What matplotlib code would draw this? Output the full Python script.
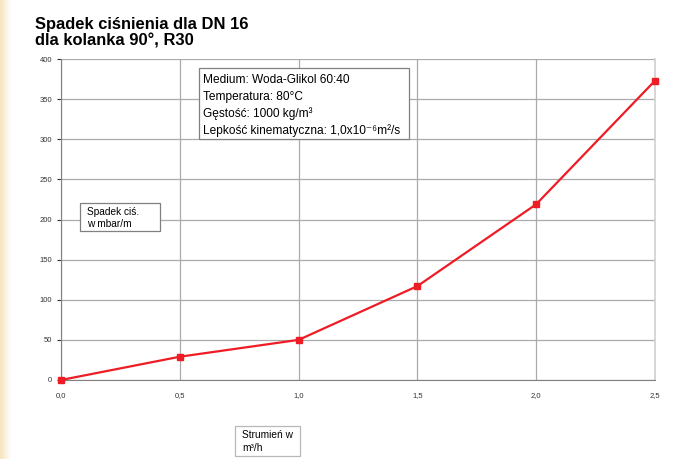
import matplotlib
matplotlib.use("Agg")
import matplotlib.pyplot as plt
import numpy as np
from matplotlib.patches import Rectangle
from matplotlib.colors import LinearSegmentedColormap

flow = [0.0, 0.5, 1.0, 1.5, 2.0, 2.5]
drop = [0, 29, 50, 117, 219, 373]
xticks = [0.0, 0.5, 1.0, 1.5, 2.0, 2.5]
xticklabels = ["0,0", "0,5", "1,0", "1,5", "2,0", "2,5"]
yticks = list(range(0, 401, 50))
title_lines = ["Spadek ciśnienia dla DN 16", "dla kolanka 90°, R30"]

plt.rcParams['font.family'] = ['Liberation Sans', 'DejaVu Sans']

W, H = 676, 459
fig = plt.figure(figsize=(6.76, 4.59), dpi=100)

def fx(px):
    return px / W

def fy(py):
    return 1 - py / H

# beige gradient strip on the left
gax = fig.add_axes([0, 0, 0.016, 1])
grad = np.linspace(0, 1, 50).reshape(1, -1)
cmap = LinearSegmentedColormap.from_list("b", ["#f6e3bd", "#ffffff"])
gax.imshow(np.vstack([grad] * 10), aspect='auto', cmap=cmap, extent=[0, 1, 0, 1])
gax.axis('off')

ax = fig.add_axes([fx(61), fy(380), fx(655) - fx(61), fy(59) - fy(380)])
ax.set_xlim(0, 2.5)
ax.set_ylim(0, 400)
ax.set_xticks(xticks)
ax.set_xticklabels(xticklabels)
ax.set_yticks(yticks)
ax.grid(True, color='#ababab', linewidth=0.9)
ax.set_axisbelow(True)
ax.tick_params(axis='both', labelsize=5.5, colors='#333333', length=3, width=0.8)
ax.tick_params(axis='x', length=0, pad=9)
ax.spines['top'].set_visible(False)
ax.spines['right'].set_color('#d0d0d0')
ax.spines['right'].set_linewidth(1.2)
ax.spines['left'].set_color('#808080')
ax.spines['bottom'].set_color('#808080')

ax.plot(flow, drop, color='#ee1c25', linewidth=1.6, marker='s', markersize=5,
        clip_on=False, zorder=5)

for i, t in enumerate(title_lines):
    fig.text(fx(35), fy(29 + i * 17), t, fontsize=11.9, fontweight='bold',
             va='baseline', ha='left')

def box(x0, y0, x1, y1, ec):
    fig.patches.append(Rectangle((fx(x0), fy(y1)), fx(x1) - fx(x0), fy(y0) - fy(y1),
                                 transform=fig.transFigure, facecolor='white',
                                 edgecolor=ec, linewidth=0.9, zorder=10))

box(199, 68, 409, 139, '#808080')
info = ["Medium: Woda-Glikol 60:40", "Temperatura: 80°C",
        "Gęstość: 1000 kg/m³", "Lepkość kinematyczna: 1,0x10⁻⁶m²/s"]
for i, line in enumerate(info):
    fig.text(fx(203), fy(80 + i * 16.7), line, fontsize=8.6, va='center', ha='left', zorder=11)

box(80, 203, 160, 231, '#808080')
fig.text(fx(87), fy(212), "Spadek ciś.", fontsize=7.3, va='center', ha='left', zorder=11)
fig.text(fx(87), fy(224), "w mbar/m", fontsize=7.3, va='center', ha='left', zorder=11)

box(235, 426, 300, 456, '#b8b8b8')
fig.text(fx(242), fy(435), "Strumień w", fontsize=7.3, va='center', ha='left', zorder=11)
fig.text(fx(242), fy(448), "m³/h", fontsize=7.3, va='center', ha='left', zorder=11)

fig.savefig("out.png", dpi=100)
